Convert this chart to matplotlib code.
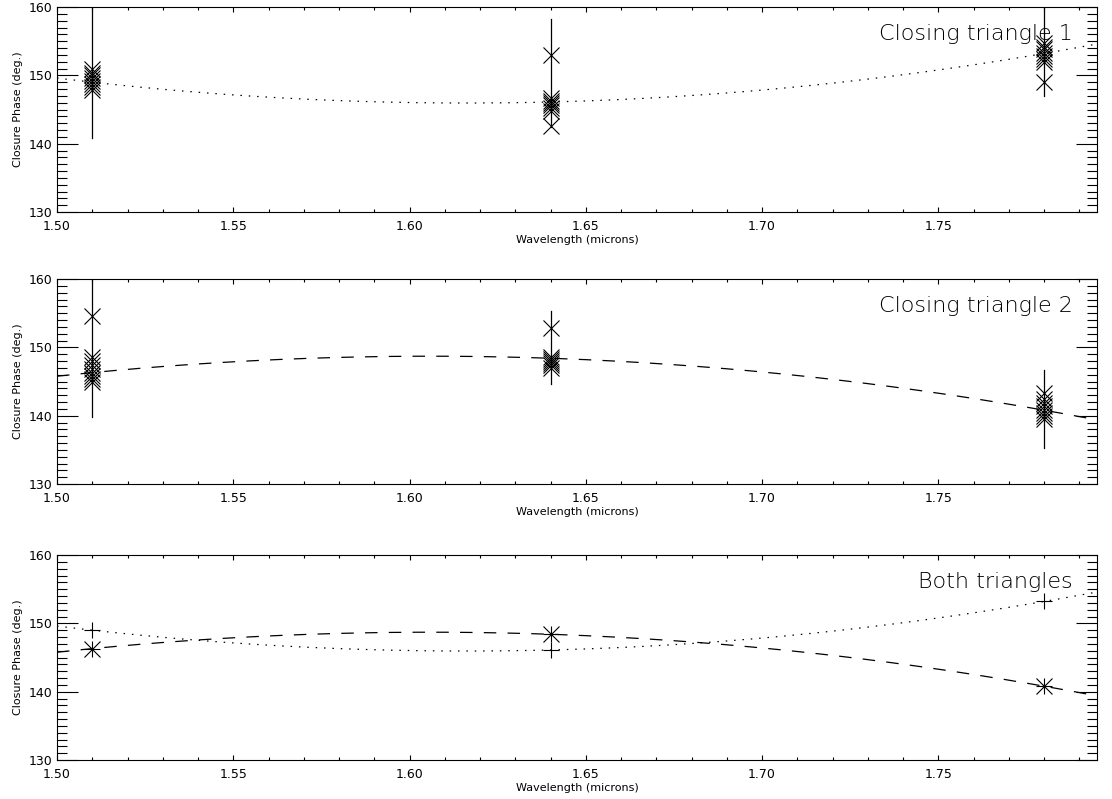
import matplotlib
matplotlib.use("Agg")
import matplotlib.pyplot as plt
import numpy as np
from matplotlib.ticker import MultipleLocator, FormatStrFormatter

# wavelengths of the three channels
wl = np.array([1.51, 1.64, 1.78])

# individual closure phases, triangle 1
cp1_151 = [147.8, 148.3, 148.8, 149.2, 149.6, 150.0, 150.4, 150.9]
cp1_164 = [153.0, 146.7, 146.3, 145.9, 145.6, 145.2, 144.8, 142.6]
cp1_178 = [154.7, 154.2, 153.8, 153.3, 152.9, 152.4, 151.9, 149.0]
err1_lo = [140.8, 142.5, 147.0]
err1_hi = [161.0, 158.2, 161.0]

# individual closure phases, triangle 2
cp2_151 = [154.6, 148.6, 148.0, 147.4, 146.9, 146.3, 145.8, 145.3, 144.9]
cp2_164 = [152.8, 148.6, 148.3, 148.0, 147.7, 147.4, 147.0]
cp2_178 = [143.3, 142.5, 141.9, 141.4, 140.9, 140.4, 139.9, 139.5]
err2_lo = [139.8, 144.6, 135.3]
err2_hi = [161.0, 155.3, 146.7]

# averaged values (bottom panel)
mean1 = np.array([149.0, 146.1, 153.2])
mean2 = np.array([146.3, 148.4, 140.8])

xmin, xmax = 1.50, 1.795
xfit = np.linspace(xmin, xmax, 300)
fit1 = np.polyval(np.polyfit(wl, mean1, 2), xfit)
fit2 = np.polyval(np.polyfit(wl, mean2, 2), xfit)

DOT = dict(color="black", lw=0.9, dashes=(1.2, 5.5))
DASH = dict(color="black", lw=0.9, dashes=(10, 9))
MK = dict(color="black", ls="none", ms=11, mew=0.8)

fig = plt.figure(figsize=(11.12, 7.99), dpi=100)
left, width, h = 57 / 1112, 1040 / 1112, 205 / 799
bottoms = [1 - 212 / 799, 1 - 484 / 799, 1 - 760 / 799]
axes = [fig.add_axes([left, b, width, h]) for b in bottoms]


def style(ax):
    ax.set_xlim(xmin, xmax)
    ax.set_ylim(130, 160)
    ax.xaxis.set_major_locator(MultipleLocator(0.05))
    ax.xaxis.set_minor_locator(MultipleLocator(0.01))
    ax.yaxis.set_major_locator(MultipleLocator(10))
    ax.yaxis.set_minor_locator(MultipleLocator(1))
    ax.xaxis.set_major_formatter(FormatStrFormatter("%.2f"))
    ax.tick_params(which="both", direction="in", top=True, right=True,
                   labelsize=9, width=0.8, color="black")
    ax.tick_params(axis="y", which="major", length=15)
    ax.tick_params(axis="y", which="minor", length=7)
    ax.tick_params(axis="x", which="major", length=3.5, pad=6)
    ax.tick_params(axis="x", which="minor", length=2)
    for s in ax.spines.values():
        s.set_linewidth(0.8)
    ax.set_xlabel("Wavelength (microns)", fontsize=8, labelpad=1)
    ax.set_ylabel("Closure Phase (deg.)", fontsize=8, labelpad=4)


def cluster(ax, groups, lo, hi):
    for x, g, a, b in zip(wl, groups, lo, hi):
        ax.plot([x, x], [a, b], color="black", lw=0.9)
        ax.plot(np.full(len(g), x), g, marker="x", **MK)


ax = axes[0]
style(ax)
ax.plot(xfit, fit1, **DOT)
cluster(ax, [cp1_151, cp1_164, cp1_178], err1_lo, err1_hi)
ax.text(0.977, 0.84, "Closing triangle 1", transform=ax.transAxes,
        ha="right", va="baseline", fontsize=16, fontweight="light")

ax = axes[1]
style(ax)
ax.plot(xfit, fit2, **DASH)
cluster(ax, [cp2_151, cp2_164, cp2_178], err2_lo, err2_hi)
ax.text(0.977, 0.84, "Closing triangle 2", transform=ax.transAxes,
        ha="right", va="baseline", fontsize=16, fontweight="light")

ax = axes[2]
style(ax)
ax.plot(xfit, fit1, **DOT)
ax.plot(xfit, fit2, **DASH)
ax.plot(wl, mean1, marker="+", **MK)
ax.plot(wl, mean2, marker="x", **MK)
ax.plot(wl, mean2, marker="+", **MK)
ax.text(0.977, 0.84, "Both triangles", transform=ax.transAxes,
        ha="right", va="baseline", fontsize=16, fontweight="light")

fig.savefig("out.png", dpi=100)
